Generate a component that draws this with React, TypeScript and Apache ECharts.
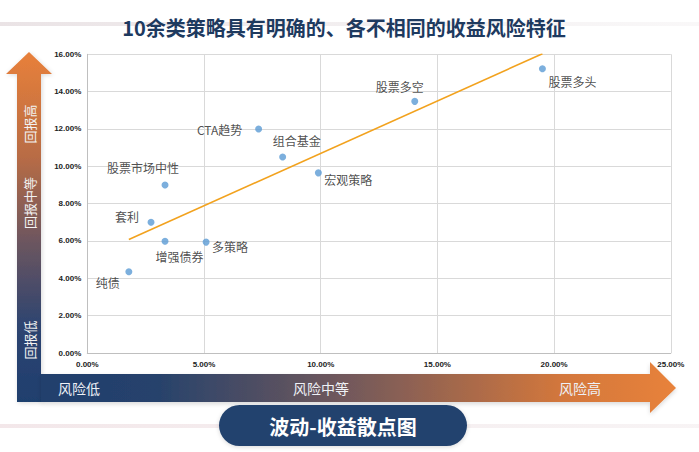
import React, { useEffect, useRef } from 'react';
import * as echarts from 'echarts';

// ---- data ----
const strategies = ['纯债', '增强债券', '多策略', '套利', '股票市场中性', 'CTA趋势', '组合基金', '宏观策略', '股票多空', '股票多头'];
const volatility = [1.78, 3.33, 5.09, 2.73, 3.33, 7.34, 8.37, 9.9, 14.03, 19.5]; // x, %
const returns = [4.35, 5.99, 5.94, 7.0, 9.0, 12.0, 10.5, 9.65, 13.48, 15.23]; // y, %
const trendX = [1.78, 19.5];
const trendY = [6.08, 16.03];
const xAxisRange = [0, 25, 5];
const yAxisRange = [0, 16, 2];
const titleText = '10余类策略具有明确的、各不相同的收益风险特征';
const subtitleText = '波动-收益散点图';
const returnLabels = ['回报高', '回报中等', '回报低'];
const riskLabels = ['风险低', '风险中等', '风险高'];

// ---- label placement (style only) ----
const labelOffsets: number[][] = [
  [-21, 11], [14.5, 15], [24, 4], [-24, -6], [-22, -17],
  [-39, 1], [14, -16], [30, 7], [-15, -15], [30, 13],
];

const CJK = '"Noto Sans CJK SC", "Noto Sans", sans-serif';

export default function App() {
  const ref = useRef<HTMLDivElement>(null);
  useEffect(() => {
    if (!ref.current) return;
    const chart = echarts.init(ref.current, undefined, { renderer: 'svg' });

    const scatterData = strategies.map((name, i) => ({
      name,
      value: [volatility[i], returns[i]],
      label: { offset: labelOffsets[i] },
    }));

    const vGrad = new echarts.graphic.LinearGradient(0, 0, 0, 1, [
      { offset: 0, color: '#E8803A' },
      { offset: 0.3, color: '#B86C45' },
      { offset: 0.55, color: '#6A5560' },
      { offset: 0.78, color: '#2E4470' },
      { offset: 1, color: '#1F3F6E' },
    ]);
    const hGrad = new echarts.graphic.LinearGradient(0, 0, 1, 0, [
      { offset: 0, color: '#213F6D' },
      { offset: 0.18, color: '#26426C' },
      { offset: 0.5, color: '#775A5A' },
      { offset: 0.82, color: '#D3773C' },
      { offset: 1, color: '#E8823A' },
    ]);

    const option: any = {
      animation: false,
      backgroundColor: '#ffffff',
      grid: { left: 87.3, right: 28.2, top: 54.3, bottom: 99, containLabel: false },
      xAxis: {
        type: 'value',
        min: xAxisRange[0],
        max: xAxisRange[1],
        interval: xAxisRange[2],
        axisLine: { show: true, lineStyle: { color: '#BFBFBF', width: 1 } },
        axisTick: { show: false },
        splitLine: { show: true, lineStyle: { color: '#D9D9D9', width: 1 } },
        axisLabel: {
          formatter: (v: number) => v.toFixed(2) + '%',
          fontSize: 8,
          fontWeight: 'bold',
          fontFamily: '"Liberation Sans", Arial, sans-serif',
          color: '#222',
          margin: 7,
        },
      },
      yAxis: {
        type: 'value',
        min: yAxisRange[0],
        max: yAxisRange[1],
        interval: yAxisRange[2],
        axisLine: { show: true, lineStyle: { color: '#BFBFBF', width: 1 } },
        axisTick: { show: false },
        splitLine: { show: true, lineStyle: { color: '#D9D9D9', width: 1 } },
        axisLabel: {
          formatter: (v: number) => v.toFixed(2) + '%',
          fontSize: 8,
          fontWeight: 'bold',
          fontFamily: '"Liberation Sans", Arial, sans-serif',
          color: '#222',
          margin: 6,
        },
      },
      series: [
        {
          type: 'line',
          data: trendX.map((x, i) => [x, trendY[i]]),
          symbol: 'none',
          clip: true,
          lineStyle: { color: '#F2A21E', width: 1.6 },
          z: 2,
          silent: true,
        },
        {
          type: 'scatter',
          data: scatterData,
          symbol: 'circle',
          symbolSize: 7,
          itemStyle: { color: '#5B9BD5' },
          z: 3,
          label: {
            show: true,
            position: 'inside',
            formatter: (p: any) => p.name,
            fontSize: 12,
            fontFamily: CJK,
            color: '#222',
            align: 'center',
            verticalAlign: 'middle',
          },
        },
      ],
      graphic: [
        // faint decorative lines
        {
          type: 'rect',
          shape: { x: 0, y: 22, width: 699, height: 4 },
          style: {
            fill: new echarts.graphic.LinearGradient(0, 0, 1, 0, [
              { offset: 0, color: 'rgba(225,215,218,0.7)' },
              { offset: 1, color: 'rgba(235,230,232,0.3)' },
            ]),
          },
          z: -10,
        },
        {
          type: 'rect',
          shape: { x: 0, y: 424, width: 699, height: 4 },
          style: {
            fill: new echarts.graphic.LinearGradient(0, 0, 1, 0, [
              { offset: 0, color: 'rgba(240,225,228,0.8)' },
              { offset: 1, color: 'rgba(240,232,234,0.5)' },
            ]),
          },
          z: -10,
        },
        // title
        {
          type: 'text',
          x: 344,
          y: 27,
          style: {
            text: titleText,
            fontSize: 20,
            fontWeight: 'bold',
            fontFamily: CJK,
            fill: '#1E3A5F',
            align: 'center',
            verticalAlign: 'middle',
          },
        },
        // vertical arrow
        {
          type: 'polygon',
          shape: {
            points: [[17, 74], [6, 74], [29, 52], [52, 74], [41, 74], [41, 402], [17, 402]],
          },
          style: { fill: vGrad, shadowBlur: 4, shadowColor: 'rgba(0,0,0,0.15)', shadowOffsetX: 1, shadowOffsetY: 1 },
          z: 5,
        },
        // horizontal arrow
        {
          type: 'polygon',
          shape: {
            points: [[41, 374], [650, 374], [650, 362], [676, 388], [650, 413], [650, 402], [41, 402]],
          },
          style: { fill: hGrad, shadowBlur: 4, shadowColor: 'rgba(0,0,0,0.15)', shadowOffsetY: 2 },
          z: 5,
        },
        ...[124, 203, 340].map((y, i) => ({
          type: 'text',
          x: 29,
          y,
          rotation: Math.PI / 2,
          style: {
            text: returnLabels[i],
            fontSize: 13,
            fontFamily: CJK,
            fill: '#F2F2F2',
            align: 'center',
            verticalAlign: 'middle',
          },
          z: 6,
        })),
        ...[79, 321, 580].map((x, i) => ({
          type: 'text',
          x,
          y: 388,
          style: {
            text: riskLabels[i],
            fontSize: 14,
            fontFamily: CJK,
            fill: '#EEF1F6',
            align: 'center',
            verticalAlign: 'middle',
          },
          z: 6,
        })),
        // subtitle pill
        {
          type: 'rect',
          shape: { x: 219, y: 405, width: 248, height: 41, r: 20.5 },
          style: { fill: '#24436E', shadowBlur: 4, shadowColor: 'rgba(0,0,0,0.15)', shadowOffsetY: 1 },
          z: 5,
        },
        {
          type: 'text',
          x: 343,
          y: 426,
          style: {
            text: subtitleText,
            fontSize: 20,
            fontWeight: 'bold',
            fontFamily: CJK,
            fill: '#FFFFFF',
            align: 'center',
            verticalAlign: 'middle',
          },
          z: 6,
        },
      ],
    };

    chart.setOption(option);
    return () => chart.dispose();
  }, []);

  return (
    <div
      ref={ref}
      style={{ position: 'fixed', left: 0, top: 0, width: 699, height: 452 }}
    />
  );
}
